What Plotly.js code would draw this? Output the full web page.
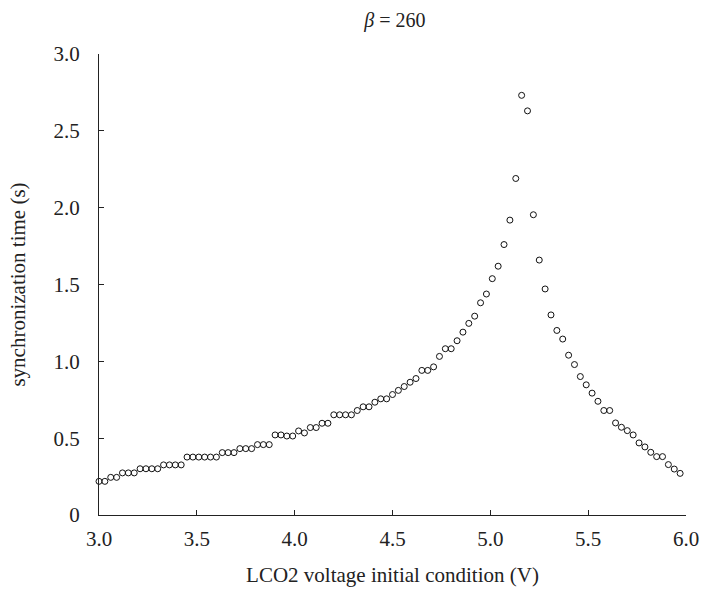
<!DOCTYPE html>
<html>
<head>
<meta charset="utf-8">
<script src="https://cdn.plot.ly/plotly-3.0.1.min.js"></script>
<style>html,body{margin:0;padding:0;background:#fff;}#chart{width:703px;height:589px;}</style>
</head>
<body>
<div id="chart"></div>
<script>
var voltage = [
  3.00, 3.03, 3.06, 3.09, 3.12, 3.15, 3.18, 3.21, 3.24, 3.27,
  3.30, 3.33, 3.36, 3.39, 3.42, 3.45, 3.48, 3.51, 3.54, 3.57,
  3.60, 3.63, 3.66, 3.69, 3.72, 3.75, 3.78, 3.81, 3.84, 3.87,
  3.90, 3.93, 3.96, 3.99, 4.02, 4.05, 4.08, 4.11, 4.14, 4.17,
  4.20, 4.23, 4.26, 4.29, 4.32, 4.35, 4.38, 4.41, 4.44, 4.47,
  4.50, 4.53, 4.56, 4.59, 4.62, 4.65, 4.68, 4.71, 4.74, 4.77,
  4.80, 4.83, 4.86, 4.89, 4.92, 4.95, 4.98, 5.01, 5.04, 5.07,
  5.10, 5.13, 5.16, 5.19, 5.22, 5.25, 5.28, 5.31, 5.34, 5.37,
  5.40, 5.43, 5.46, 5.49, 5.52, 5.55, 5.58, 5.61, 5.64, 5.67,
  5.70, 5.73, 5.76, 5.79, 5.82, 5.85, 5.88, 5.91, 5.94, 5.97
];
var syncTime = [
  0.219, 0.219, 0.245, 0.245, 0.274, 0.274, 0.274, 0.301, 0.301, 0.301,
  0.301, 0.326, 0.326, 0.326, 0.326, 0.377, 0.377, 0.377, 0.377, 0.377,
  0.377, 0.406, 0.406, 0.406, 0.432, 0.432, 0.432, 0.458, 0.458, 0.458,
  0.521, 0.521, 0.514, 0.514, 0.547, 0.534, 0.569, 0.569, 0.597, 0.597,
  0.652, 0.652, 0.652, 0.652, 0.680, 0.704, 0.704, 0.734, 0.756, 0.756,
  0.784, 0.811, 0.836, 0.864, 0.888, 0.941, 0.941, 0.964, 1.032, 1.082,
  1.082, 1.134, 1.190, 1.247, 1.294, 1.381, 1.438, 1.538, 1.619, 1.760,
  1.919, 2.190, 2.731, 2.630, 1.954, 1.659, 1.471, 1.302, 1.201, 1.145,
  1.040, 0.979, 0.901, 0.847, 0.793, 0.740, 0.680, 0.680, 0.599, 0.571,
  0.549, 0.521, 0.469, 0.443, 0.408, 0.380, 0.380, 0.328, 0.299, 0.271
];
var xTickVals = [3.0, 3.5, 4.0, 4.5, 5.0, 5.5, 6.0];
var xTickText = ['3.0', '3.5', '4.0', '4.5', '5.0', '5.5', '6.0'];
var yTickVals = [0, 0.5, 1.0, 1.5, 2.0, 2.5, 3.0];
var yTickText = ['0', '0.5', '1.0', '1.5', '2.0', '2.5', '3.0'];

var FONT = 'Liberation Serif, Times New Roman, serif';

var trace = {
  x: voltage,
  y: syncTime,
  type: 'scatter',
  mode: 'markers',
  cliponaxis: false,
  marker: {symbol: 'circle-open', size: 6, color: '#111', line: {width: 1, color: '#111'}},
  hoverinfo: 'x+y'
};

var layout = {
  width: 703,
  height: 589,
  paper_bgcolor: '#fff',
  plot_bgcolor: '#fff',
  showlegend: false,
  margin: {l: 99, r: 17, t: 54, b: 74, pad: 0},
  font: {family: FONT, color: '#222', size: 21},
  title: {
    text: '<i>β</i> = 260',
    font: {family: FONT, size: 20, color: '#222'},
    x: 0.504, xanchor: 'center', xref: 'paper',
    y: 0.966, yanchor: 'middle', yref: 'container'
  },
  xaxis: {
    range: [3.0, 6.0],
    tickvals: xTickVals,
    ticktext: xTickText,
    ticks: 'inside',
    ticklen: 5,
    tickwidth: 1,
    tickcolor: '#222',
    showline: true,
    linecolor: '#222',
    linewidth: 1,
    mirror: false,
    showgrid: false,
    zeroline: false,
    ticklabelstandoff: 5,
    tickfont: {family: FONT, size: 21, color: '#222'},
    title: {text: 'LCO2 voltage initial condition (V)', font: {family: FONT, size: 21, color: '#222'}, standoff: 17}
  },
  yaxis: {
    range: [0, 3.0],
    tickvals: yTickVals,
    ticktext: yTickText,
    ticks: 'inside',
    ticklen: 5,
    tickwidth: 1,
    tickcolor: '#222',
    showline: true,
    linecolor: '#222',
    linewidth: 1,
    mirror: false,
    showgrid: false,
    zeroline: false,
    ticklabelstandoff: 14,
    tickfont: {family: FONT, size: 21, color: '#222'},
    title: {text: 'synchronization time (s)', font: {family: FONT, size: 21, color: '#222'}, standoff: 22}
  }
};

Plotly.newPlot('chart', [trace], layout, {displayModeBar: false, staticPlot: true});
</script>
</body>
</html>
